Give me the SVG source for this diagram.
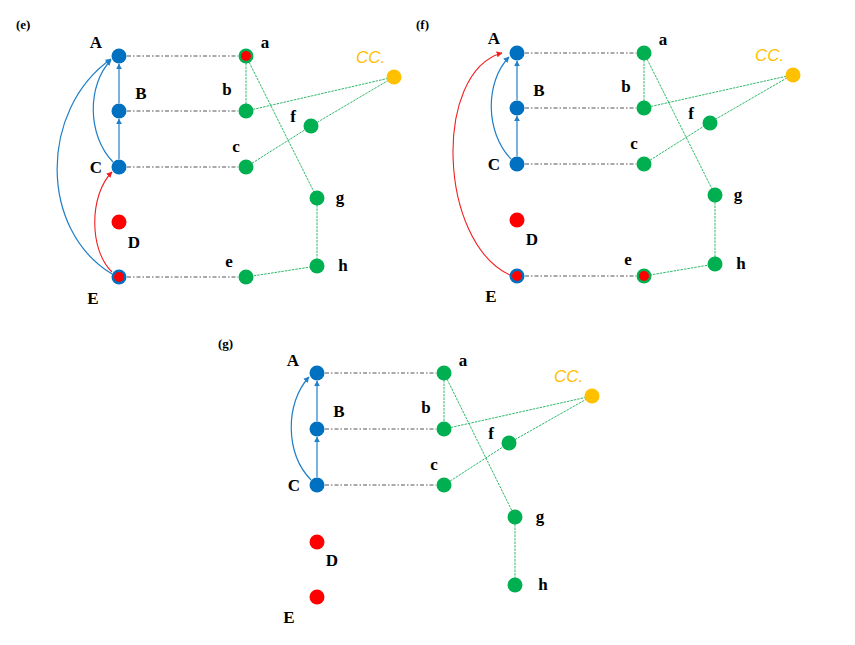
<svg xmlns="http://www.w3.org/2000/svg" width="855" height="645" viewBox="0 0 855 645">
<style>
.lbl{font-family:"Liberation Serif",serif;font-weight:bold;font-size:17px;fill:#000;text-anchor:middle}
.plbl{font-family:"Liberation Serif",serif;font-weight:bold;font-size:13px;fill:#000}
.cc{font-family:"Liberation Sans",sans-serif;font-style:italic;font-size:17px;fill:#FFC000}
.dd{stroke:#555;stroke-width:1;fill:none;stroke-dasharray:4 2 1.5 2}
.gd{stroke:#2DB86A;stroke-width:1;fill:none;stroke-dasharray:2.5 1}
.bl{stroke:#1F7FC8;stroke-width:1.2;fill:none}
.rd{stroke:#F02020;stroke-width:1.1;fill:none}
.blue{fill:#0070C0}.green{fill:#00B050}.red{fill:#FF0000}.yellow{fill:#FFC000}
</style>
<defs>
<marker id="ab" viewBox="0 0 10 10" refX="9" refY="5" markerWidth="6" markerHeight="6" markerUnits="userSpaceOnUse" orient="auto"><path d="M0,0 L10,5 L0,10 Z" fill="#1F7FC8"/></marker>
<marker id="ar" viewBox="0 0 10 10" refX="9" refY="5" markerWidth="6" markerHeight="6" markerUnits="userSpaceOnUse" orient="auto"><path d="M0,0 L10,5 L0,10 Z" fill="#F02020"/></marker>
</defs>
<rect width="855" height="645" fill="#fff"/>
<text class="plbl" x="16" y="29">(e)</text>
<text class="plbl" x="416" y="29">(f)</text>
<text class="plbl" x="218" y="348">(g)</text>

<!-- Panel e -->
<g id="panel-e">
<g id="e-connectors">
<path class="dd" d="M127 56 H238 M127 111 H238 M127 167 H238 M127 277 H238"/>
<path class="gd" d="M246 56 L246 111 M246 56 L317 198 M246 111 L394 77 M246 167 L311 126 L394 77 M317 198 L317 266 L246 277"/>
<path class="bl" d="M119 103 L119 64" marker-end="url(#ab)"/>
<path class="bl" d="M119 159 L119 119" marker-end="url(#ab)"/>
<path class="bl" d="M113 162 C 87 135 87 85 111 60" marker-end="url(#ab)"/>
<path class="bl" d="M112 274 C 39 230 39 110 111 59" marker-end="url(#ab)"/>
<path class="rd" d="M112 272 C 89 250 89 195 112 172" marker-end="url(#ar)"/>
</g>
<g id="e-A"><circle class="blue" cx="119" cy="56" r="7.5"/><text class="lbl" x="96" y="48">A</text></g>
<g id="e-B"><circle class="blue" cx="119" cy="111" r="7.5"/><text class="lbl" x="141" y="99">B</text></g>
<g id="e-C"><circle class="blue" cx="119" cy="167" r="7.5"/><text class="lbl" x="96" y="173">C</text></g>
<g id="e-D"><circle class="red" cx="119" cy="222" r="7.5"/><text class="lbl" x="134" y="248">D</text></g>
<g id="e-E"><circle class="blue" cx="119" cy="277" r="7.5"/><circle class="red" cx="119" cy="277" r="5"/><text class="lbl" x="93" y="304">E</text></g>
<g id="e-a"><circle class="green" cx="246" cy="56" r="7.5"/><circle class="red" cx="246" cy="56" r="5"/><text class="lbl" x="265" y="48">a</text></g>
<g id="e-b"><circle class="green" cx="246" cy="111" r="7.5"/><text class="lbl" x="227" y="95">b</text></g>
<g id="e-c"><circle class="green" cx="246" cy="167" r="7.5"/><text class="lbl" x="236" y="152">c</text></g>
<g id="e-e"><circle class="green" cx="246" cy="277" r="7.5"/><text class="lbl" x="229" y="267">e</text></g>
<g id="e-f"><circle class="green" cx="311" cy="126" r="7.5"/><text class="lbl" x="293" y="122">f</text></g>
<g id="e-g"><circle class="green" cx="317" cy="198" r="7.5"/><text class="lbl" x="340" y="203">g</text></g>
<g id="e-h"><circle class="green" cx="317" cy="266" r="7.5"/><text class="lbl" x="343" y="271">h</text></g>
<g id="e-CC"><circle class="yellow" cx="394" cy="77" r="7.5"/><text class="cc" x="356" y="63">CC.</text></g>
</g>

<!-- Panel f -->
<g id="panel-f" transform="translate(398,-3)">
<g id="f-connectors">
<path class="dd" d="M127 56 H238 M127 111 H238 M127 167 H238 M127 279 H238"/>
<path class="gd" d="M246 56 L246 111 M246 56 L317 198 M246 111 L394 78 M246 167 L311 126 L394 78 M317 198 L317 267 L246 279"/>
<path class="bl" d="M119 103 L119 64" marker-end="url(#ab)"/>
<path class="bl" d="M119 159 L119 119" marker-end="url(#ab)"/>
<path class="bl" d="M113 162 C 87 135 87 85 111 60" marker-end="url(#ab)"/>
<path class="rd" d="M112 278 C 40 245 35 75 104 56" marker-end="url(#ar)"/>
</g>
<g id="f-A"><circle class="blue" cx="119" cy="56" r="7.5"/><text class="lbl" x="96" y="47">A</text></g>
<g id="f-B"><circle class="blue" cx="119" cy="111" r="7.5"/><text class="lbl" x="141" y="99">B</text></g>
<g id="f-C"><circle class="blue" cx="119" cy="167" r="7.5"/><text class="lbl" x="96" y="173">C</text></g>
<g id="f-D"><circle class="red" cx="119" cy="223" r="7.5"/><text class="lbl" x="134" y="248">D</text></g>
<g id="f-E"><circle class="blue" cx="119" cy="279" r="7.5"/><circle class="red" cx="119" cy="279" r="5"/><text class="lbl" x="93" y="305">E</text></g>
<g id="f-a"><circle class="green" cx="246" cy="56" r="7.5"/><text class="lbl" x="265" y="48">a</text></g>
<g id="f-b"><circle class="green" cx="246" cy="111" r="7.5"/><text class="lbl" x="228" y="95">b</text></g>
<g id="f-c"><circle class="green" cx="246" cy="167" r="7.5"/><text class="lbl" x="236" y="152">c</text></g>
<g id="f-e"><circle class="green" cx="246" cy="279" r="7.5"/><circle class="red" cx="246" cy="279" r="5"/><text class="lbl" x="230" y="268">e</text></g>
<g id="f-f"><circle class="green" cx="312" cy="126" r="7.5"/><text class="lbl" x="293" y="122">f</text></g>
<g id="f-g"><circle class="green" cx="317" cy="198" r="7.5"/><text class="lbl" x="340" y="203">g</text></g>
<g id="f-h"><circle class="green" cx="317" cy="267" r="7.5"/><text class="lbl" x="343" y="272">h</text></g>
<g id="f-CC"><circle class="yellow" cx="395" cy="78" r="7.5"/><text class="cc" x="357" y="64">CC.</text></g>
</g>

<!-- Panel g -->
<g id="panel-g" transform="translate(198,318)">
<g id="g-connectors">
<path class="dd" d="M127 55 H238 M127 111 H238 M127 167 H238"/>
<path class="gd" d="M246 55 L246 111 M246 55 L317 199 M246 111 L394 78 M246 167 L311 125 L394 78 M317 199 L317 267"/>
<path class="bl" d="M119 103 L119 63" marker-end="url(#ab)"/>
<path class="bl" d="M119 159 L119 119" marker-end="url(#ab)"/>
<path class="bl" d="M113 162 C 87 135 87 85 111 59" marker-end="url(#ab)"/>
</g>
<g id="g-A"><circle class="blue" cx="119" cy="55" r="7.5"/><text class="lbl" x="95" y="48">A</text></g>
<g id="g-B"><circle class="blue" cx="119" cy="111" r="7.5"/><text class="lbl" x="141" y="99">B</text></g>
<g id="g-C"><circle class="blue" cx="119" cy="167" r="7.5"/><text class="lbl" x="96" y="173">C</text></g>
<g id="g-D"><circle class="red" cx="119" cy="224" r="7.5"/><text class="lbl" x="134" y="248">D</text></g>
<g id="g-E"><circle class="red" cx="119" cy="279" r="7.5"/><text class="lbl" x="91" y="305">E</text></g>
<g id="g-a"><circle class="green" cx="246" cy="55" r="7.5"/><text class="lbl" x="265" y="48">a</text></g>
<g id="g-b"><circle class="green" cx="246" cy="111" r="7.5"/><text class="lbl" x="228" y="95">b</text></g>
<g id="g-c"><circle class="green" cx="246" cy="167" r="7.5"/><text class="lbl" x="236" y="152">c</text></g>
<g id="g-f"><circle class="green" cx="311" cy="125" r="7.5"/><text class="lbl" x="293" y="121">f</text></g>
<g id="g-g"><circle class="green" cx="317" cy="199" r="7.5"/><text class="lbl" x="342" y="204">g</text></g>
<g id="g-h"><circle class="green" cx="317" cy="267" r="7.5"/><text class="lbl" x="345" y="272">h</text></g>
<g id="g-CC"><circle class="yellow" cx="394" cy="78" r="7.5"/><text class="cc" x="356" y="64">CC.</text></g>
</g>
</svg>
